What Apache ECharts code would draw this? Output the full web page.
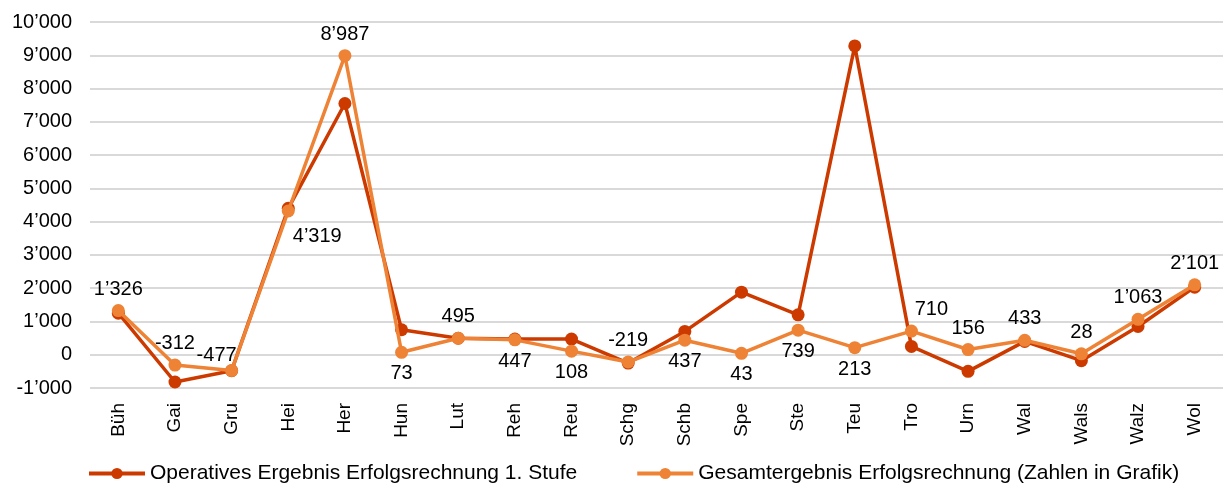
<!DOCTYPE html>
<html><head><meta charset="utf-8">
<script src="https://cdn.jsdelivr.net/npm/echarts@6/dist/echarts.min.js"></script>
<style>html,body{margin:0;padding:0;background:#fff}#c{width:1223px;height:486px}</style>
</head><body><div id="c"></div>
<script>
const categories = ['Büh','Gai','Gru','Hei','Her','Hun','Lut','Reh','Reu','Schg','Schb','Spe','Ste','Teu','Tro','Urn','Wal','Wals','Walz','Wol'];
const operativ = [1250,-820,-480,4400,7550,750,495,470,470,-250,700,1880,1200,9280,250,-500,400,-180,850,2030];
const gesamt = [1326,-312,-477,4319,8987,73,495,447,108,-219,437,43,739,213,710,156,433,28,1063,2101];
const yTicks = {min:-1000, max:10000, interval:1000};
const seriesNames = ['Operatives Ergebnis Erfolgsrechnung 1. Stufe','Gesamtergebnis Erfolgsrechnung (Zahlen in Grafik)'];
// label placement per point (style only)
const labelPos = ['top','top','tl','br','top','bottom','top','bottom','bottom','top','bottom','bottom','bottom','bottom','tr','top','top','top','top','top'];

function fmt(v){
  const s = Math.abs(v).toString().replace(/\B(?=(\d{3})+(?!\d))/g,'\u2019');
  return (v<0?'-':'')+s;
}
function lbl(p){
  switch(p){
    case 'tl': return {position:'top', offset:[-15,6]};
    case 'tr': return {position:'top', offset:[20,0]};
    case 'br': return {position:'bottom', offset:[29,4]};
    default: return {position:p};
  }
}
const font = '"Liberation Sans", Arial, sans-serif';
const chart = echarts.init(document.getElementById('c'));
chart.setOption({
  animation:false,
  textStyle:{fontFamily:font},
  grid:{left:90,right:0,top:22,bottom:98,containLabel:false},
  legend:{
    bottom:-3,left:82,itemWidth:56,itemHeight:14,itemGap:58,
    lineStyle:{width:4},
    textStyle:{fontFamily:font,fontSize:21,color:'#000'},
    data:seriesNames
  },
  xAxis:{
    type:'category',data:categories,boundaryGap:true,
    axisLine:{show:false},axisTick:{show:false},
    axisLabel:{rotate:90,fontSize:19,color:'#000',fontFamily:font,margin:15,interval:0}
  },
  yAxis:{
    type:'value',min:yTicks.min,max:yTicks.max,interval:yTicks.interval,
    axisLine:{show:false},axisTick:{show:false},
    splitLine:{lineStyle:{color:'#d9d9d9',width:2}},
    axisLabel:{fontSize:20,color:'#000',fontFamily:font,margin:18,formatter:fmt}
  },
  series:[
    {
      name:seriesNames[0],type:'line',data:operativ,
      symbol:'circle',symbolSize:13,
      lineStyle:{color:'#CC3A00',width:3.5},
      itemStyle:{color:'#CC3A00'},
      z:2
    },
    {
      name:seriesNames[1],type:'line',
      data:gesamt.map((v,i)=>({value:v,label:lbl(labelPos[i])})),
      symbol:'circle',symbolSize:13,
      lineStyle:{color:'#EE8235',width:3.5},
      itemStyle:{color:'#EE8235'},
      label:{show:true,fontSize:20,color:'#000',fontFamily:font,distance:5,formatter:p=>fmt(p.value)},
      z:3
    }
  ]
});
</script></body></html>
